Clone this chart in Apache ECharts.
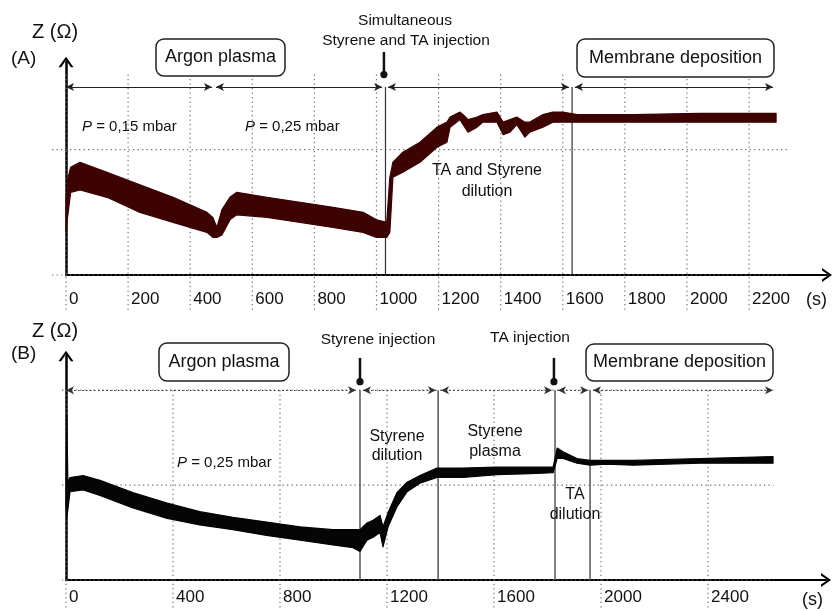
<!DOCTYPE html>
<html>
<head>
<meta charset="utf-8">
<script src="https://cdn.jsdelivr.net/npm/echarts/dist/echarts.min.js"></script>
<style>
  html, body { margin: 0; padding: 0; background: #fff; }
  #chart { width: 834px; height: 611px; }
</style>
</head>
<body>
<div id="chart"></div>
<script>
// panel A: time (s) and upper / lower edge of the noisy impedance band
const timeA = [0, 5, 15, 45, 132, 238, 345, 454, 473, 486, 502, 528, 550, 647, 754, 860, 957, 1000, 1033, 1043,
  1053, 1085, 1140, 1195, 1227, 1237, 1269, 1279, 1295, 1324, 1343, 1388, 1408, 1430, 1452, 1478, 1494, 1536,
  1568, 1600, 1646, 1720, 1826, 2042, 2287];
const upperA = [0.60, 0.76, 0.86, 0.90, 0.82, 0.72, 0.62, 0.50, 0.46, 0.38, 0.52, 0.62, 0.66, 0.62, 0.58, 0.54,
  0.50, 0.44, 0.42, 0.78, 0.90, 0.98, 1.06, 1.18, 1.22, 1.26, 1.30, 1.28, 1.24, 1.26, 1.28, 1.30, 1.22, 1.24,
  1.26, 1.22, 1.22, 1.28, 1.30, 1.30, 1.28, 1.28, 1.28, 1.29, 1.29];
const lowerA = [0.34, 0.46, 0.66, 0.68, 0.62, 0.50, 0.42, 0.34, 0.30, 0.30, 0.32, 0.44, 0.48, 0.46, 0.42, 0.38,
  0.34, 0.30, 0.30, 0.34, 0.78, 0.82, 0.90, 1.02, 1.06, 1.18, 1.24, 1.20, 1.14, 1.18, 1.22, 1.22, 1.12, 1.14,
  1.20, 1.10, 1.14, 1.18, 1.22, 1.22, 1.22, 1.22, 1.22, 1.22, 1.22];
const ticksA = [0, 200, 400, 600, 800, 1000, 1200, 1400, 1600, 1800, 2000, 2200];
const levelsA = [0, 1];

// panel B
const timeB = [0, 3, 7, 15, 64, 127, 250, 378, 500, 624, 750, 875, 998, 1073, 1099, 1125, 1148, 1174, 1185, 1204,
  1237, 1275, 1323, 1387, 1484, 1611, 1735, 1821, 1836, 1858, 1910, 1959, 2022, 2120, 2370, 2643];
const upperB = [0.95, 1.74, 1.03, 1.08, 1.10, 1.05, 0.92, 0.81, 0.72, 0.66, 0.61, 0.56, 0.53, 0.53, 0.53, 0.60,
  0.63, 0.68, 0.56, 0.71, 0.92, 1.03, 1.10, 1.18, 1.18, 1.19, 1.19, 1.19, 1.39, 1.35, 1.28, 1.26, 1.26, 1.26,
  1.28, 1.30];
const lowerB = [0.79, 0.66, 0.74, 0.93, 0.95, 0.89, 0.76, 0.65, 0.58, 0.53, 0.47, 0.42, 0.37, 0.34, 0.30, 0.42,
  0.45, 0.50, 0.35, 0.56, 0.77, 0.93, 1.02, 1.08, 1.08, 1.11, 1.12, 1.13, 1.28, 1.28, 1.23, 1.21, 1.22, 1.21,
  1.23, 1.23];
const ticksB = [0, 400, 800, 1200, 1600, 2000, 2400];
const levelsB = [0, 1, 2];

// phase boundaries, arrows and injection markers
const phaseLinesA = [1029, 1630];
const phaseArrowsA = [[0, 470], [483, 1018], [1037, 1620], [1639, 2277]];
const injectA = [1024];
const phaseLinesB = [1099, 1391, 1828, 1959];
const phaseArrowsB = [[0, 1084], [1110, 1383], [1402, 1817], [1839, 1952], [1970, 2643]];
const injectB = [1099, 1824];

const FONT = '"Liberation Sans", Arial, sans-serif';
const chevron = 'path://M0,10 L7,0 L14,10 L11.6,10 L7,3.4 L2.4,10 Z';
const dotted = { stroke: '#6f6f6f', lineWidth: 1.2, lineDash: [1.3, 3.2] };

// straight segments [x0, y0, x1, y1] in data units, may run outside the plot (grid lines, markers)
function segs(gi, list, style, dot) {
  return {
    type: 'custom', xAxisIndex: gi, yAxisIndex: gi, silent: true, z: 2, clip: false,
    data: list,
    renderItem: (params, api) => {
      const a = api.coord([api.value(0), api.value(1)]);
      const b = api.coord([api.value(2), api.value(3)]);
      const kids = [{ type: 'line', shape: { x1: a[0], y1: a[1], x2: b[0], y2: b[1] }, style: style }];
      if (dot) kids.push({ type: 'circle', shape: { cx: b[0], cy: b[1], r: 3.6 }, style: { fill: '#111' } });
      return { type: 'group', children: kids };
    }
  };
}

// double-headed phase arrows
function arrows(gi, list, y, lineStyle) {
  return {
    type: 'line', xAxisIndex: gi, yAxisIndex: gi, data: [], silent: true,
    markLine: {
      silent: true, animation: false, symbol: ['arrow', 'arrow'], symbolSize: [6, 8],
      label: { show: false }, emphasis: { disabled: true }, lineStyle: lineStyle,
      data: list.map(p => [{ coord: [p[0], y] }, { coord: [p[1], y] }])
    }
  };
}

// the trace is a thick noisy band: fill between its two edges
function band(gi, t, lo, hi, color) {
  return {
    type: 'custom', xAxisIndex: gi, yAxisIndex: gi, silent: true, z: 3,
    data: [[t[0], lo[0]]],
    renderItem: (params, api) => {
      const top = t.map((x, i) => api.coord([x, hi[i]]));
      const bot = t.map((x, i) => api.coord([x, lo[i]])).reverse();
      return {
        type: 'polygon',
        shape: { points: top.concat(bot) },
        style: { fill: color, stroke: color, lineWidth: 1.2, lineJoin: 'round' }
      };
    }
  };
}

function xAxis(gi, max, interval, ticks, margin) {
  return {
    type: 'value', gridIndex: gi, min: 0, max: max, interval: interval,
    axisLine: { lineStyle: { color: '#000', width: 2 }, symbol: ['none', chevron], symbolSize: [14, 12] },
    axisTick: { show: false }, splitLine: { show: false },
    axisLabel: {
      formatter: v => (ticks.includes(v) ? String(v) : ''),
      align: 'left', padding: [0, 0, 0, 3], margin: margin,
      fontSize: 17, color: '#111', fontFamily: FONT
    }
  };
}

function yAxis(gi, max, offset) {
  return {
    type: 'value', gridIndex: gi, min: 0, max: max, offset: offset,
    axisLine: { show: true, lineStyle: { color: '#000', width: 2.5 }, symbol: ['none', chevron], symbolSize: [15, 12] },
    axisTick: { show: false }, axisLabel: { show: false }, splitLine: { show: false }
  };
}

function txt(x, y, s, size, align) {
  return {
    type: 'text', silent: true, z: 100,
    style: {
      text: s, x: x, y: y, fill: '#111', font: size + 'px ' + FONT,
      textAlign: align || 'center', textVerticalAlign: 'middle',
      rich: { i: { fontStyle: 'italic', fontSize: size, fontFamily: FONT, fill: '#111' } }
    }
  };
}
function box(x, y, w, h) {
  return { type: 'rect', silent: true, z: 99, shape: { x: x, y: y, width: w, height: h, r: 8 },
    style: { fill: '#fff', stroke: '#222', lineWidth: 1.5 } };
}

const series = [
  segs(0, ticksA.map(t => [t, 1.6, t, -0.28]), dotted),
  segs(0, levelsA.map(v => [-45, v, 2325, v]), dotted),
  segs(0, phaseLinesA.map(t => [t, 1.5, t, 0]), { stroke: '#333', lineWidth: 1.2 }),
  segs(0, injectA.map(t => [t, 1.78, t, 1.6]), { stroke: '#111', lineWidth: 2.5 }, true),
  arrows(0, phaseArrowsA, 1.5, { color: '#222', width: 1, type: 'solid' }),
  band(0, timeA, lowerA, upperA, '#3d0202'),

  segs(1, ticksB.map(t => [t, 2.0, t, -0.3]), dotted),
  segs(1, levelsB.map(v => [-15, v, 2645, v]), dotted),
  segs(1, phaseLinesB.map(t => [t, 2.0, t, 0]), { stroke: '#555', lineWidth: 1.5 }),
  segs(1, injectB.map(t => [t, 2.34, t, 2.09]), { stroke: '#111', lineWidth: 2.5 }, true),
  arrows(1, phaseArrowsB, 2.0, { color: '#333', width: 1, type: [1.5, 2.5] }),
  band(1, timeB, lowerB, upperB, '#050505')
];

const chart = echarts.init(document.getElementById('chart'), null, { renderer: 'canvas' });
chart.setOption({
  animation: false,
  backgroundColor: '#fff',
  grid: [
    { left: 66, right: 7, top: 62, bottom: 336 },
    { left: 66, right: 8, top: 356, bottom: 31 }
  ],
  xAxis: [xAxis(0, 2451, 200, ticksA, 16), xAxis(1, 2841, 400, ticksB, 9)],
  yAxis: [yAxis(0, 1.70, 0), yAxis(1, 2.36, 4)],
  series: series,
  graphic: [
    txt(32, 32, 'Z (Ω)', 20, 'left'),
    txt(11, 59, '(A)', 19, 'left'),
    box(156, 39, 129, 37), txt(220.5, 57.5, 'Argon plasma', 18),
    box(577, 39, 197, 38), txt(675.5, 58, 'Membrane deposition', 18),
    txt(405, 21, 'Simultaneous', 15.5),
    txt(406, 41, 'Styrene and TA injection', 15.5),
    txt(82, 127, '{i|P} = 0,15 mbar', 15, 'left'),
    txt(245, 127, '{i|P} = 0,25 mbar', 15, 'left'),
    txt(487, 171, 'TA and Styrene', 16),
    txt(487, 192, 'dilution', 16),
    txt(806, 300, '(s)', 18, 'left'),

    txt(32, 331, 'Z (Ω)', 20, 'left'),
    txt(11, 354, '(B)', 19, 'left'),
    box(159, 343, 130, 38), txt(224, 362, 'Argon plasma', 18),
    box(586, 344, 187, 37), txt(679.5, 362.5, 'Membrane deposition', 18),
    txt(378, 340, 'Styrene injection', 15.5),
    txt(530, 338, 'TA injection', 15.5),
    txt(397, 437, 'Styrene', 16), txt(397, 456, 'dilution', 16),
    txt(495, 432, 'Styrene', 16), txt(495, 452, 'plasma', 16),
    txt(575, 495, 'TA', 16), txt(575, 515, 'dilution', 16),
    txt(177, 463, '{i|P} = 0,25 mbar', 15, 'left'),
    txt(802, 600, '(s)', 18, 'left')
  ]
});
</script>
</body>
</html>
